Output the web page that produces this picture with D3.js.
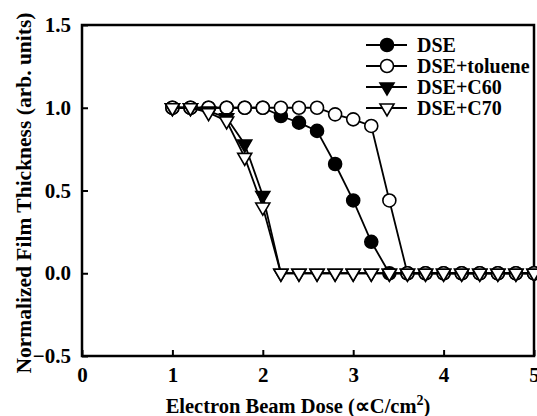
<!DOCTYPE html>
<html>
<head>
<meta charset="utf-8">
<script src="https://cdn.jsdelivr.net/npm/d3@7"></script>
<style>
  body { margin: 0; background: #fff; }
  svg text { font-family: "Liberation Serif", "Times New Roman", serif; font-weight: bold; fill: #000; }
</style>
</head>
<body>
<div id="chart"></div>
<script>
// Data
const doses = [1.0, 1.2, 1.4, 1.6, 1.8, 2.0, 2.2, 2.4, 2.6, 2.8, 3.0,
               3.2, 3.4, 3.6, 3.8, 4.0, 4.2, 4.4, 4.6, 4.8, 5.0];
const dse     = [1, 1, 1, 1, 1, 1, 0.95, 0.91, 0.86, 0.66, 0.44, 0.19, 0, 0, 0, 0, 0, 0, 0, 0, 0];
const toluene = [1, 1, 1, 1, 1, 1, 1, 1, 1, 0.96, 0.93, 0.89, 0.44, 0, 0, 0, 0, 0, 0, 0, 0];
const c60     = [1, 1, 0.98, 0.94, 0.78, 0.47, 0, 0, 0, 0, 0, 0, 0, 0, 0, 0, 0, 0, 0, 0, 0];
const c70     = [1, 1, 0.97, 0.92, 0.70, 0.40, 0, 0, 0, 0, 0, 0, 0, 0, 0, 0, 0, 0, 0, 0, 0];
const seriesNames = ["DSE", "DSE+toluene", "DSE+C60", "DSE+C70"];
const xTicks = [0, 1, 2, 3, 4, 5];
const yTicks = [-0.5, 0.0, 0.5, 1.0, 1.5];

const W = 537, H = 416;
const margin = { top: 25, right: 3, bottom: 60, left: 82 };
const width = W - margin.left - margin.right;
const height = H - margin.top - margin.bottom;

const x = d3.scaleLinear().domain([0, 5]).range([0, width]);
const y = d3.scaleLinear().domain([-0.5, 1.5]).range([height, 0]);

const svg = d3.select("#chart")
    .append("svg")
        .attr("width", W)
        .attr("height", H)
    .append("g")
        .attr("transform", `translate(${margin.left},${margin.top})`)
;

// Axes with inward ticks
svg.append("g")
    .attr("transform", `translate(0,${height})`)
    .call(d3.axisBottom(x).tickValues(xTicks).tickSize(-6).tickPadding(11).tickFormat(d3.format("d")))
    .call(g => g.select(".domain").remove())
    .call(g => g.selectAll(".tick line").attr("stroke-width", 2))
    .call(g => g.selectAll(".tick text").attr("font-size", 21).attr("font-family", null))
;
svg.append("g")
    .call(d3.axisLeft(y).tickValues(yTicks).tickSize(-6).tickPadding(11).tickFormat(d3.format(".1f")))
    .call(g => g.select(".domain").remove())
    .call(g => g.selectAll(".tick line").attr("stroke-width", 2))
    .call(g => g.selectAll(".tick text").attr("font-size", 21).attr("font-family", null))
;

// Frame
svg.append("rect")
    .attr("x", 0).attr("y", 0)
    .attr("width", width).attr("height", height)
    .attr("fill", "none")
    .attr("stroke", "#000")
    .attr("stroke-width", 2.5)
;

// Marker shapes
const circleR = 6.5;
const triPath = "M-7,-4L7,-4L0,8Z";   // downward triangle, centroid at origin

const series = [
    { name: seriesNames[0], values: dse,     shape: "circle",   fill: "#000" },
    { name: seriesNames[1], values: toluene, shape: "circle",   fill: "#fff" },
    { name: seriesNames[2], values: c60,     shape: "triangle", fill: "#000" },
    { name: seriesNames[3], values: c70,     shape: "triangle", fill: "#fff" },
];

const line = d3.line()
    .x(d => x(d[0]))
    .y(d => y(d[1]))
;

function drawMarker(g, shape, fill) {
    if (shape === "circle") {
        g.append("circle").attr("r", circleR);
    } else {
        g.append("path").attr("d", triPath);
    }
    g.selectAll("circle,path")
        .attr("fill", fill)
        .attr("stroke", "#000")
        .attr("stroke-width", 1.6);
}

const g_series = svg.append("g").attr("id", "series");
series.forEach(s => {
    const pts = doses.map((d, i) => [d, s.values[i]]);
    const g = g_series.append("g");
    g.append("path")
        .attr("d", line(pts))
        .attr("fill", "none")
        .attr("stroke", "#000")
        .attr("stroke-width", 1.8);
    g.selectAll("g.pt")
        .data(pts)
        .join("g")
            .attr("class", "pt")
            .attr("transform", d => `translate(${x(d[0])},${y(d[1])})`)
            .each(function () { drawMarker(d3.select(this), s.shape, s.fill); });
});

// Legend
const legend = svg.append("g")
    .attr("transform", `translate(${366 - margin.left},${45 - margin.top})`);
series.forEach((s, i) => {
    const row = legend.append("g").attr("transform", `translate(0,${i * 21})`);
    row.append("line")
        .attr("x1", 0).attr("x2", 41)
        .attr("stroke", "#000").attr("stroke-width", 2);
    const m = row.append("g").attr("transform", "translate(21,0)");
    drawMarker(m, s.shape, s.fill);
    row.append("text")
        .attr("x", 51)
        .attr("y", 7)
        .attr("font-size", 20)
        .text(s.name);
});

// Axis titles
svg.append("text")
    .attr("transform", "rotate(-90)")
    .attr("x", -168)
    .attr("y", -margin.left + 31)
    .attr("text-anchor", "middle")
    .attr("font-size", 21.5)
    .text("Normalized Film Thickness (arb. units)")
;
const xt = svg.append("text")
    .attr("x", width / 2 - 10)
    .attr("y", height + 57)
    .attr("text-anchor", "middle")
    .attr("font-size", 20.5);
xt.append("tspan").text("Electron Beam Dose (\u221DC/cm");
xt.append("tspan").attr("dy", -8).attr("font-size", 14).text("2");
xt.append("tspan").attr("dy", 8).text(")");
</script>
</body>
</html>
